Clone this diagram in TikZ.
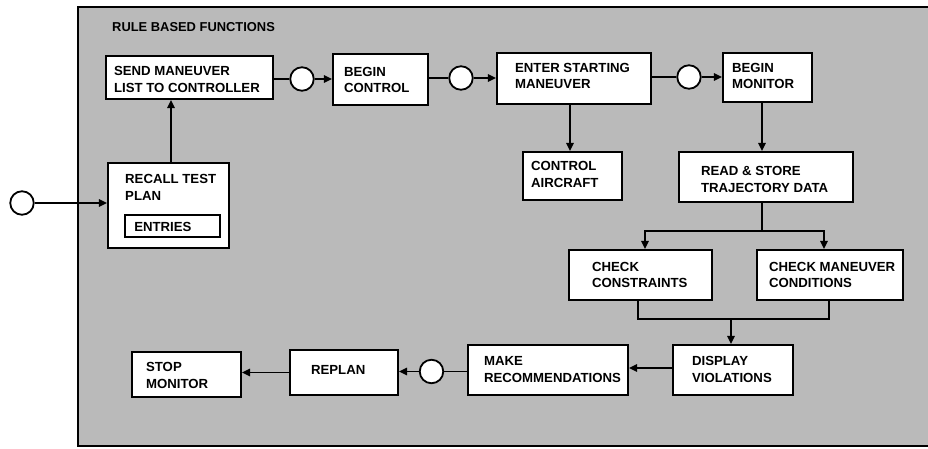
\documentclass[tikz,border=0pt]{standalone}
\usepackage{fontspec}
\setmainfont{Liberation Sans}
\usetikzlibrary{arrows.meta,calc}
\begin{document}
\begin{tikzpicture}[x=1pt,y=-1pt,
  box/.style={draw=black,line width=2.2pt,fill=white,inner sep=0pt},
  lbl/.style={anchor=west,align=left,inner sep=0pt,font=\fontsize{13.2}{16.5}\selectfont\bfseries},
  conn/.style={line width=1.5pt},
  arr/.style={conn,-{Triangle[length=8pt,width=7.5pt]}},
  ring/.style={circle,draw=black,line width=1.8pt,fill=white,minimum size=23.5pt,inner sep=0pt}]
\useasboundingbox (0,0) rectangle (928,448);
\fill[black!27] (78,7) rectangle (935,446);
\draw[line width=2pt] (935,7) -- (78,7) -- (78,446) -- (935,446);
\node[lbl,font=\fontsize{12.9}{14}\selectfont\bfseries] (title) at (112,27) {RULE BASED FUNCTIONS};

% boxes
\node[box,minimum width=167pt,minimum height=43pt] (send) at (189.5,77.5) {};
\node[lbl] (sendT) at ($(send.west)+(9,2)$) {SEND MANEUVER\\LIST TO CONTROLLER};
\node[box,minimum width=95pt,minimum height=51pt] (bc) at (380.5,79.5) {};
\node[lbl] (bcT) at ($(bc.west)+(12,0.5)$) {BEGIN\\CONTROL};
\node[box,minimum width=154pt,minimum height=51pt] (enter) at (574,78.5) {};
\node[lbl] (enterT) at ($(enter.west)+(19,-2.5)$) {ENTER STARTING\\MANEUVER};
\node[box,minimum width=89pt,minimum height=49pt] (bmon) at (767.5,77.5) {};
\node[lbl] (bmonT) at ($(bmon.west)+(10,-1.5)$) {BEGIN\\MONITOR};
\node[box,minimum width=99pt,minimum height=48pt] (ca) at (572.5,176) {};
\node[lbl] (caT) at ($(ca.west)+(9,-1.5)$) {CONTROL\\AIRCRAFT};
\node[box,minimum width=174pt,minimum height=50pt] (read) at (766,177) {};
\node[lbl] (readT) at ($(read.west)+(23,2.5)$) {READ \& STORE\\TRAJECTORY DATA};
\node[box,minimum width=143pt,minimum height=50pt] (cc) at (640.5,275) {};
\node[lbl] (ccT) at ($(cc.west)+(24,0)$) {CHECK\\CONSTRAINTS};
\node[box,minimum width=146pt,minimum height=50pt] (cm) at (830,275) {};
\node[lbl] (cmT) at ($(cm.west)+(13,0)$) {CHECK MANEUVER\\CONDITIONS};
\node[box,minimum width=120pt,minimum height=50pt] (disp) at (733,370) {};
\node[lbl] (dispT) at ($(disp.west)+(20,-0.5)$) {DISPLAY\\VIOLATIONS};
\node[box,minimum width=160pt,minimum height=50pt] (make) at (548,370) {};
\node[lbl] (makeT) at ($(make.west)+(17,-0.5)$) {MAKE\\RECOMMENDATIONS};
\node[box,minimum width=108pt,minimum height=45pt] (replan) at (344,372.5) {};
\node[lbl] (replanT) at ($(replan.west)+(22,-3)$) {REPLAN};
\node[box,minimum width=109pt,minimum height=45pt] (stop) at (186.5,374.5) {};
\node[lbl] (stopT) at ($(stop.west)+(15,1)$) {STOP\\MONITOR};
\node[box,minimum width=121pt,minimum height=85pt] (recall) at (168.5,205.5) {};
\node[lbl] (recallT) at (125,187.5) {RECALL TEST\\PLAN};
\node[box,line width=1.8pt,minimum width=95pt,minimum height=22pt] (entries) at (172.5,226) {};
\node[lbl] (entriesT) at ($(entries.west)+(10,1)$) {ENTRIES};

% connectors
\node[ring] (s0) at (22,203) {};
\draw[arr] (s0) -- (recall.west |- s0);
\coordinate (a1) at ($(recall.north)+(2.5,0)$);
\draw[arr] (a1) -- (a1 |- send.south);

\node[ring] (c1) at (302,79) {};
\draw[conn] (send.east |- c1) -- (c1);
\draw[arr] (c1) -- (bc.west |- c1);
\node[ring] (c2) at (461,78) {};
\draw[conn] (bc.east |- c2) -- (c2);
\draw[arr] (c2) -- (enter.west |- c2);
\node[ring] (c3) at (689,77) {};
\draw[conn] (enter.east |- c3) -- (c3);
\draw[arr] (c3) -- (bmon.west |- c3);

\coordinate (a2) at ($(enter.south)+(-4,0)$);
\draw[arr] (a2) -- (a2 |- ca.north);
\coordinate (a3) at ($(bmon.south)+(-5.5,0)$);
\draw[arr] (a3) -- (a3 |- read.north);

\coordinate (a4) at ($(read.south)+(-4,0)$);
\coordinate (sp) at ($(a4)+(0,28)$);
\draw[conn] (a4) -- (sp);
\draw[arr] (sp) -| ($(cc.north)+(4.5,0)$);
\draw[arr] (sp) -| ($(cm.north)+(-6,0)$);

\coordinate (j) at ($(disp.north)+(-2,-25)$);
\draw[conn] ($(cc.south)+(-2.5,0)$) |- (j) -| ($(cm.south)+(-1,0)$);
\draw[arr] (j) -- (j |- disp.north);

\coordinate (a5) at ($(disp.west)+(0,-2)$);
\draw[arr] (a5) -- (a5 -| make.east);

\node[ring] (c4) at (431.5,371.5) {};
\draw[conn] (make.west |- c4) -- (c4);
\draw[arr] (c4) -- (replan.east |- c4);
\draw[arr] (replan.west) -- (stop.east |- replan.west);
\end{tikzpicture}
\end{document}
